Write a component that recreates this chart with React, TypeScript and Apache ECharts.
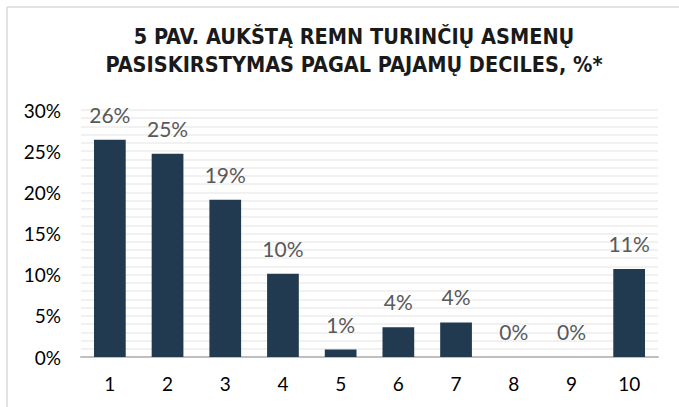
import React, { useEffect, useRef } from "react";
import * as echarts from "echarts";

const titleLines = ["5 PAV. AUKŠTĄ REMN TURINČIŲ ASMENŲ", "PASISKIRSTYMAS PAGAL PAJAMŲ DECILES, %*"];
const categories = ["1", "2", "3", "4", "5", "6", "7", "8", "9", "10"];
const shares = [26.4, 24.7, 19.1, 10.1, 0.9, 3.6, 4.2, 0, 0, 10.7];
const yTicks = [0, 5, 10, 15, 20, 25, 30];

export default function App() {
  const ref = useRef<HTMLDivElement>(null);
  useEffect(() => {
    const chart = echarts.init(ref.current!, null, { renderer: "svg" });
    chart.setOption({
      animation: false,
      backgroundColor: "#ffffff",
      title: {
        text: titleLines.join("\n"),
        left: 349,
        textAlign: "center",
        top: 17,
        textStyle: {
          fontFamily: "DejaVu Sans Condensed",
          fontWeight: "bold",
          fontSize: 21.5,
          lineHeight: 28,
          color: "#1a1a1a",
        },
      },
      graphic: [
        { type: "line", shape: { x1: 7, y1: 7, x2: 679, y2: 7 }, style: { stroke: "#d9d9d9", lineWidth: 1.5 } },
        { type: "line", shape: { x1: 7, y1: 7, x2: 7, y2: 407 }, style: { stroke: "#d9d9d9", lineWidth: 1.5 } },
      ],
      grid: { left: 81, right: 21, top: 110, bottom: 50 },
      xAxis: {
        type: "category",
        data: categories,
        axisLine: { show: true, lineStyle: { color: "#bfbfbf", width: 2 } },
        axisTick: { show: false },
        axisLabel: { color: "#000000", fontFamily: "Lato", fontSize: 19, margin: 17 },
      },
      yAxis: {
        type: "value",
        min: yTicks[0],
        max: yTicks[yTicks.length - 1],
        interval: 5,
        axisLine: { show: false },
        axisTick: { show: false },
        axisLabel: { color: "#000000", fontFamily: "Lato", fontSize: 19, margin: 20, formatter: (v: number) => v + "%" },
        splitLine: { show: true, lineStyle: { color: "#ececec", width: 1.5 } },
        minorTick: { show: false, splitNumber: 5 },
        minorSplitLine: { show: true, lineStyle: { color: "#ececec", width: 1.5 } },
      },
      series: [
        {
          type: "bar",
          data: shares,
          barWidth: "55%",
          itemStyle: { color: "#213a4f" },
          label: {
            show: true,
            position: "top",
            distance: 15,
            color: "#595959",
            fontFamily: "Lato",
            fontSize: 21,
            formatter: (p: any) => Math.round(p.value) + "%",
          },
        },
      ],
    });
    return () => chart.dispose();
  }, []);
  return <div ref={ref} style={{ position: "absolute", left: 0, top: 0, width: 679, height: 407 }} />;
}
